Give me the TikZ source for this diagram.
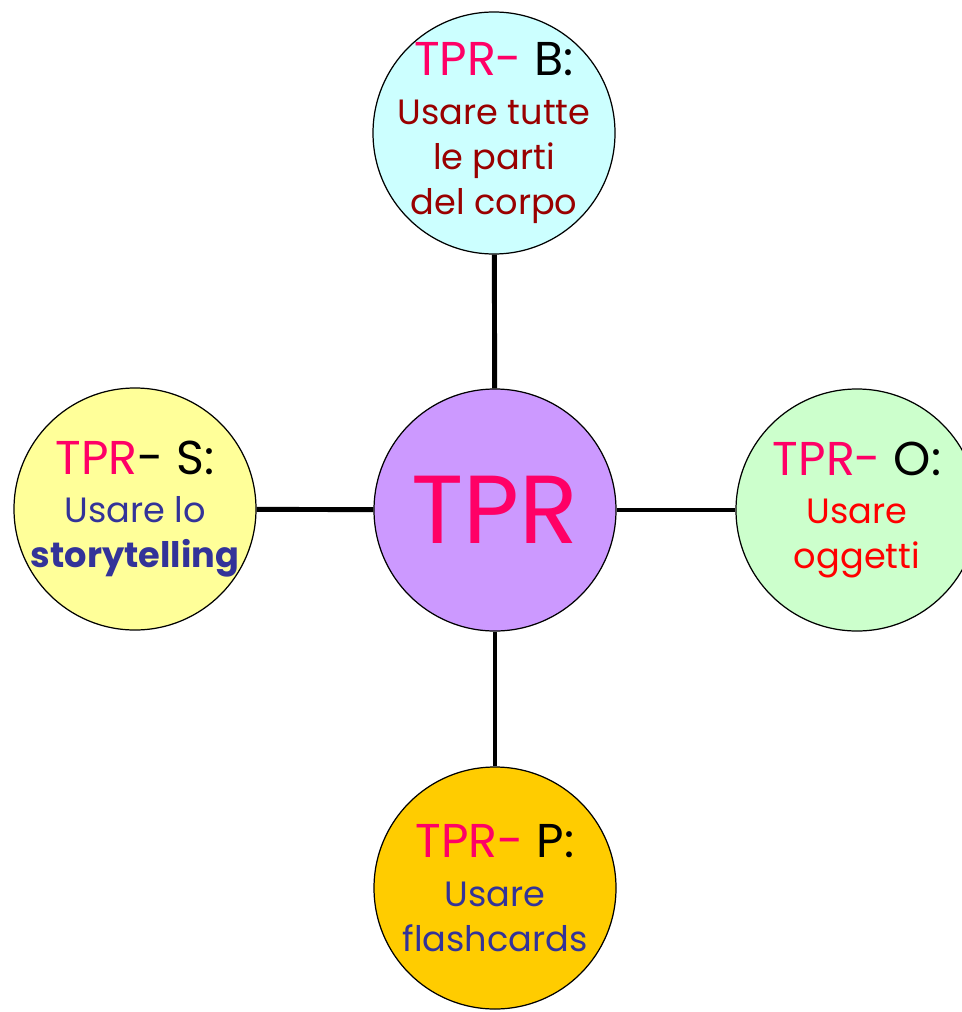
\documentclass[tikz,border=0pt]{standalone}
\usepackage{fontspec}
\setmainfont{Poppins}
\usetikzlibrary{positioning}

\definecolor{tprpink}{HTML}{FF0066}
\definecolor{tprdarkred}{HTML}{990000}
\definecolor{tprblue}{HTML}{333399}
\definecolor{tprred}{HTML}{FF0000}
\definecolor{fillcyan}{HTML}{CCFFFF}
\definecolor{fillviolet}{HTML}{CC99FF}
\definecolor{fillgreen}{HTML}{CCFFCC}
\definecolor{fillyellow}{HTML}{FFFF99}
\definecolor{fillorange}{HTML}{FFCC00}

\newcommand{\tprhead}{\fontsize{27pt}{30pt}\selectfont}

\tikzset{
    bubble/.style={circle, draw=black, line width=0.7pt, minimum size=4.84cm,
        inner sep=-0.7cm, align=center, font=\fontsize{20pt}{25.6pt}\selectfont},
    spoke/.style={line width=2.8pt, black}
}

\begin{document}
\begin{tikzpicture}
    \useasboundingbox (0,0) rectangle (19.22,-20.24);

    %%% Centre %%%
    \node[bubble, fill=fillviolet, text=tprpink,
          font=\fontsize{55pt}{60pt}\selectfont] (tpr) at (9.9,-10.2) {TPR};

    %%% Outer bubbles %%%
    \node[bubble, fill=fillcyan, text=tprdarkred] (body) at (9.88,-2.66)
        {{\tprhead\textcolor{tprpink}{TPR-}\ \textcolor{black}{B:}}\\[2pt]
         Usare tutte\\ le parti\\ del corpo}; % B
    \node[bubble, fill=fillyellow, text=tprblue] (story) at (2.7,-10.18)
        {{\tprhead\textcolor{tprpink}{TPR}\textcolor{black}{-\ S:}}\\[2pt]
         Usare lo\\ \textbf{storytelling}}; % S
    \node[bubble, fill=fillgreen, text=tprred] (objects) at (17.14,-10.2)
        {{\tprhead\textcolor{tprpink}{TPR-}\ \textcolor{black}{O:}}\\[2pt]
         Usare\\ oggetti}; % O
    \node[bubble, fill=fillorange, text=tprblue] (pictures) at (9.9,-17.76)
        {{\tprhead\textcolor{tprpink}{TPR-}\ \textcolor{black}{P:}}\\[2pt]
         Usare\\ flashcards}; % P

    %%% Spokes %%%
    \draw[spoke] (tpr) -- (body);
    \draw[spoke] (tpr) -- (story);
    \draw[spoke] (tpr) -- (objects);
    \draw[spoke] (tpr) -- (pictures);
\end{tikzpicture}
\end{document}
